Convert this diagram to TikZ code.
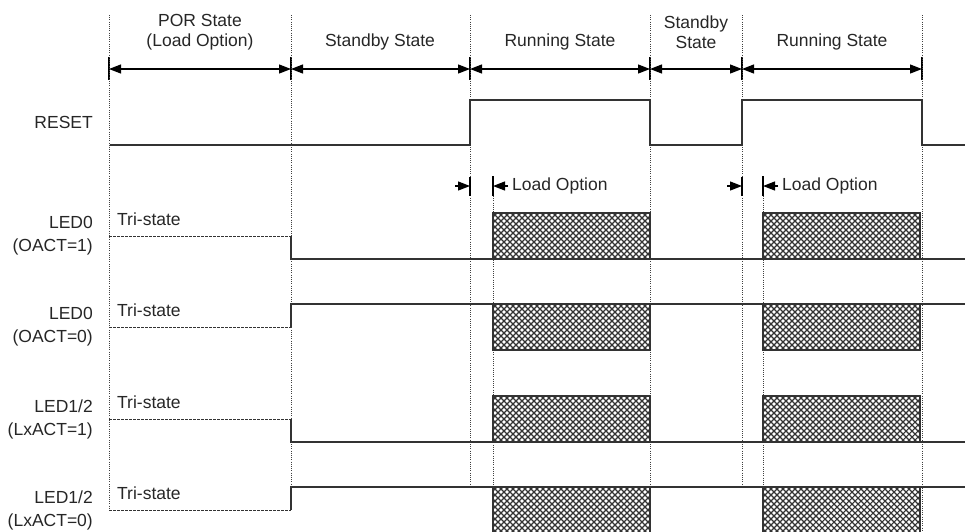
\documentclass[tikz,border=0pt]{standalone}
\usepackage{fontspec}
\setmainfont{Liberation Sans}
\usetikzlibrary{positioning,arrows.meta,calc}
\tikzset{
  wave/.style={line width=1.3pt,draw=black!80},
  tristate/.style={line width=1pt,draw=black!80,dash pattern=on 2.5pt off 1.5pt},
  guide/.style={line width=0.8pt,draw=black!75,dash pattern=on 1pt off 1.2pt},
  tickln/.style={line width=1.2pt},
  span/.style={<->,line width=1.2pt},
  hatchln/.style={line width=1.1pt,draw=black!80},
  siglbl/.style={anchor=east,align=right,inner sep=0pt,text=black!85,font=\fontsize{17.5}{23}\selectfont},
  txt/.style={inner sep=0pt,align=center,text=black!85,font=\fontsize{17.5}{20.5}\selectfont},
}

\begin{document}
\begin{tikzpicture}[x=1pt,y=-1pt,>={Triangle[length=12pt,width=9pt]}]
  \useasboundingbox (0,0) rectangle (965,531);
  % phase boundaries
  \foreach \n/\x in {0/109,1/291,2/470,3/650,4/742,5/922}{
    \coordinate (b\n) at (\x,69);
    \draw[tickln] (\x,57) -- (\x,80);
  }
  \foreach \x/\e in {109/509,291/509,470/487,650/531,742/487,922/531}
    \draw[guide] (\x,15) -- (\x,\e);
  \foreach \x in {493,763}
    \draw[guide] (\x,196) -- (\x,531);
  \draw[span] (b0) -- (b1); \draw[span] (b1) -- (b2); \draw[span] (b2) -- (b3);
  \draw[span] (b3) -- (b4); \draw[span] (b4) -- (b5);
  \node[txt] (por) at (200,32) {POR State\\(Load Option)};
  \node[txt] (stby1) at (380,42) {Standby State};
  \node[txt] (run1) at (560,42) {Running State};
  \node[txt] (stby2) at (696,32) {Standby\\State};
  \node[txt] (run2) at (832,42) {Running State};

  % RESET
  \node[siglbl] (rst) at (93,122) {RESET};
  \draw[wave] (110,145) -- (470,145) -- (470,100) -- (650,100) -- (650,145)
    -- (742,145) -- (742,100) -- (922,100) -- (922,145) -- (965,145);

  % load option markers
  \foreach \a/\b/\k in {470/493/1,742/763/2}{
    \coordinate (ra\k) at (\a,186); \coordinate (la\k) at (\b,186);
    \draw[tickln] (\a,177) -- (\a,196);
    \draw[tickln] (\b,176) -- (\b,196);
    \draw[->,line width=1.2pt] ($(ra\k)+(-15,0)$) -- (ra\k);
    \draw[->,line width=1.2pt] ($(la\k)+(15,0)$) -- (la\k);
    \node[txt,anchor=west] (lo\k) at (\b+19,186) {Load Option};
  }

  % LED rows: top level, label, low or high after POR
  \foreach \h/\lbl/\hi [count=\r] in {213/{LED0\\(OACT=1)}/0,304/{LED0\\(OACT=0)}/1,
                                      396/{LED1/2\\(LxACT=1)}/0,487/{LED1/2\\(LxACT=0)}/1}{
    \node[siglbl] (led\r) at (93,\h+23) {\lbl};
    \node[txt,anchor=west] (tri\r) at (117,\h+6) {Tri-state};
    \foreach \x in {493,763}{
      \begin{scope}
        \clip (\x,\h) rectangle (\x+157,\h+46);
        \foreach \d in {-48,-42,...,162}{
          \draw[hatchln] (\x+\d,\h) -- ++(46,46);
          \draw[hatchln] (\x+\d,\h+46) -- ++(46,-46);
        }
      \end{scope}
      \draw[wave] (\x,\h+46) -- (\x,\h) -- (\x+157,\h) -- (\x+157,\h+46) -- cycle;
    }
    \draw[tristate] (109,\h+23) -- (291,\h+23);
    \ifnum\hi=1
      \draw[wave] (291,\h+23) -- (291,\h) -- (965,\h);
    \else
      \draw[wave] (291,\h+23) -- (291,\h+46) -- (965,\h+46);
    \fi
  }
\end{tikzpicture}
\end{document}
